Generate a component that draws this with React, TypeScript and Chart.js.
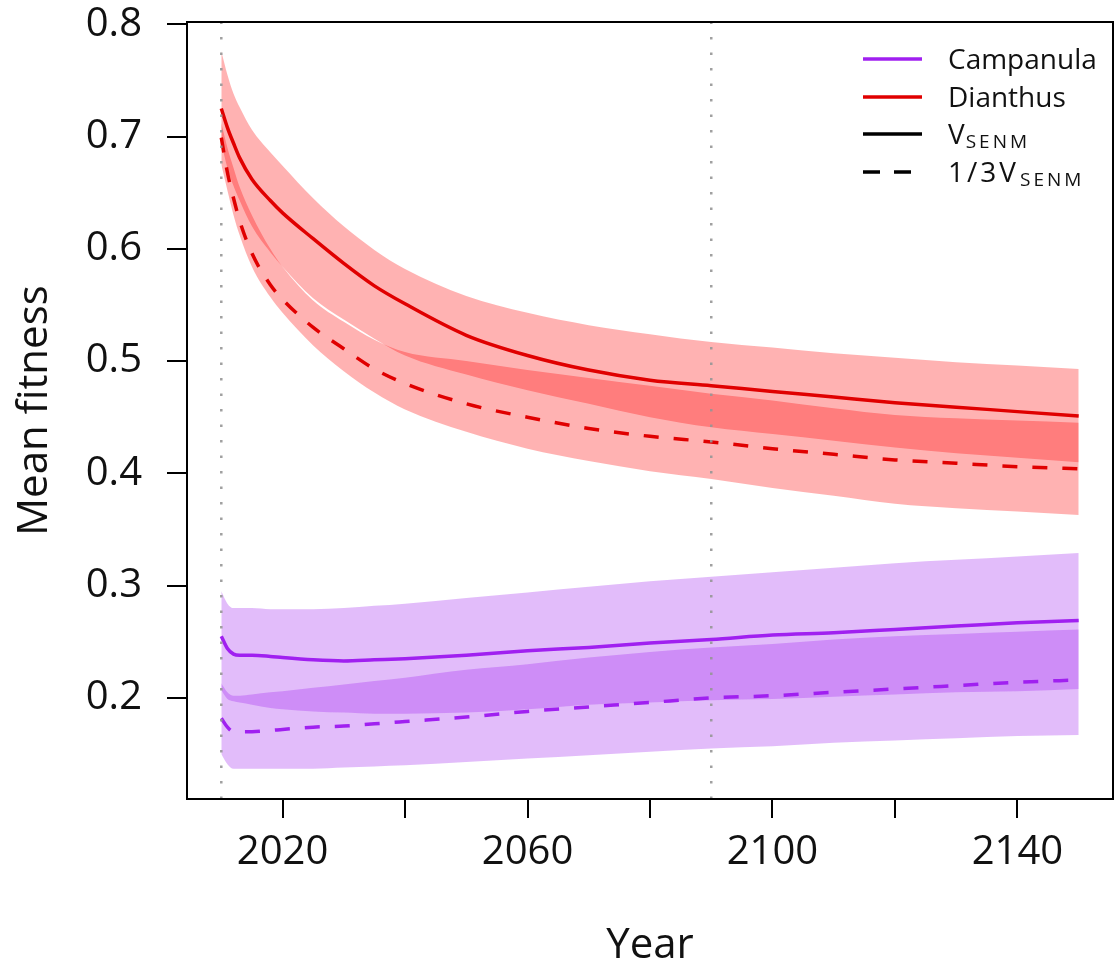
import { useEffect, useRef } from 'react';
import { Chart, registerables } from 'chart.js';

Chart.register(...registerables);

// ---------- data ----------
const years = [2010, 2011, 2012, 2013, 2015, 2018, 2020, 2025, 2030, 2035, 2040, 2050, 2060, 2070, 2080, 2090, 2100, 2110, 2120, 2130, 2140, 2150];

// Dianthus, V_SENM (solid) mean and band
const dianthusV = [0.725, 0.708, 0.694, 0.681, 0.662, 0.643, 0.632, 0.609, 0.587, 0.567, 0.551, 0.523, 0.505, 0.492, 0.483, 0.478, 0.473, 0.468, 0.463, 0.459, 0.455, 0.451];
const dianthusVHi = [0.776, 0.755, 0.738, 0.726, 0.706, 0.686, 0.674, 0.645, 0.620, 0.599, 0.582, 0.558, 0.543, 0.532, 0.524, 0.517, 0.512, 0.507, 0.503, 0.499, 0.496, 0.493];
const dianthusVLo = [0.695, 0.672, 0.656, 0.643, 0.620, 0.597, 0.584, 0.556, 0.537, 0.520, 0.505, 0.488, 0.474, 0.462, 0.450, 0.441, 0.435, 0.429, 0.423, 0.418, 0.414, 0.410];
// Dianthus, 1/3 V_SENM (dashed)
const dianthusT = [0.699, 0.668, 0.645, 0.625, 0.596, 0.568, 0.555, 0.530, 0.511, 0.493, 0.480, 0.462, 0.450, 0.440, 0.433, 0.428, 0.422, 0.417, 0.412, 0.409, 0.406, 0.404];
const dianthusTHi = [0.712, 0.690, 0.672, 0.655, 0.630, 0.600, 0.584, 0.554, 0.535, 0.519, 0.508, 0.500, 0.492, 0.485, 0.478, 0.471, 0.465, 0.458, 0.452, 0.449, 0.447, 0.445];
const dianthusTLo = [0.675, 0.652, 0.630, 0.612, 0.584, 0.557, 0.543, 0.514, 0.491, 0.472, 0.457, 0.437, 0.422, 0.411, 0.402, 0.395, 0.387, 0.380, 0.373, 0.369, 0.366, 0.363];

// Campanula, V_SENM (solid)
const campanulaV = [0.255, 0.244, 0.239, 0.238, 0.238, 0.237, 0.236, 0.234, 0.233, 0.234, 0.235, 0.238, 0.242, 0.245, 0.249, 0.252, 0.256, 0.258, 0.261, 0.264, 0.267, 0.269];
const campanulaVHi = [0.295, 0.284, 0.280, 0.280, 0.280, 0.279, 0.279, 0.279, 0.280, 0.282, 0.284, 0.289, 0.294, 0.299, 0.304, 0.308, 0.312, 0.316, 0.320, 0.323, 0.326, 0.329];
const campanulaVLo = [0.207, 0.199, 0.197, 0.196, 0.194, 0.191, 0.190, 0.188, 0.187, 0.186, 0.186, 0.187, 0.190, 0.194, 0.196, 0.198, 0.199, 0.201, 0.203, 0.205, 0.206, 0.208];
// Campanula, 1/3 V_SENM (dashed)
const campanulaT = [0.182, 0.174, 0.170, 0.170, 0.170, 0.171, 0.172, 0.174, 0.175, 0.177, 0.179, 0.183, 0.188, 0.192, 0.196, 0.200, 0.202, 0.205, 0.208, 0.211, 0.214, 0.216];
const campanulaTHi = [0.213, 0.205, 0.202, 0.202, 0.203, 0.205, 0.206, 0.209, 0.212, 0.215, 0.218, 0.225, 0.230, 0.236, 0.241, 0.245, 0.248, 0.252, 0.255, 0.257, 0.259, 0.261];
const campanulaTLo = [0.150, 0.141, 0.137, 0.137, 0.137, 0.137, 0.137, 0.137, 0.138, 0.139, 0.140, 0.143, 0.146, 0.149, 0.152, 0.155, 0.157, 0.160, 0.162, 0.164, 0.166, 0.167];

const refYears = [2010, 2090];
const xTicks = [2020, 2040, 2060, 2080, 2100, 2120, 2140];
const xLabelled = [2020, 2060, 2100, 2140];
const yTicks = [0.2, 0.3, 0.4, 0.5, 0.6, 0.7, 0.8];
const speciesNames = ['Campanula', 'Dianthus'];

// ---------- styles ----------
const FONT = '"Open Sans", "DejaVu Sans", sans-serif';
const RED = '#e00000';
const RED_BAND = 'rgba(255,0,0,0.3)';
const PURPLE = '#a020f0';
const PURPLE_BAND = 'rgba(160,32,240,0.3)';
const DASH = [15, 15];

const pts = (arr: number[]) => years.map((yr, i) => ({ x: yr, y: arr[i] }));

const lineDs = (label: string, arr: number[], color: string, dashed: boolean) => ({
  label,
  data: pts(arr),
  borderColor: color,
  borderWidth: 3.5,
  borderDash: dashed ? DASH : [],
  pointRadius: 0,
  fill: false,
  cubicInterpolationMode: 'monotone' as const,
  order: 1,
});

const bandDs = (label: string, arr: number[], color: string, target: number | false) => ({
  label,
  data: pts(arr),
  borderWidth: 0,
  borderColor: 'rgba(0,0,0,0)',
  backgroundColor: color,
  pointRadius: 0,
  fill: target === false ? false : target,
  cubicInterpolationMode: 'monotone' as const,
  order: 10,
});

const refLinesPlugin = {
  id: 'refLines',
  afterDatasetsDraw(chart: any) {
    const { ctx, chartArea, scales } = chart;
    ctx.save();
    ctx.strokeStyle = 'rgba(150,150,150,0.9)';
    ctx.lineWidth = 2.5;
    ctx.setLineDash([2.5, 13]);
    refYears.forEach((yr) => {
      const x = scales.x.getPixelForValue(yr);
      ctx.beginPath();
      ctx.moveTo(x, chartArea.bottom);
      ctx.lineTo(x, chartArea.top);
      ctx.stroke();
    });
    ctx.restore();
  },
};

const boxPlugin = {
  id: 'box',
  afterDraw(chart: any) {
    const { ctx, chartArea } = chart;
    ctx.save();
    ctx.strokeStyle = '#000';
    ctx.lineWidth = 2;
    ctx.strokeRect(chartArea.left, chartArea.top, chartArea.right - chartArea.left, chartArea.bottom - chartArea.top);
    ctx.restore();
  },
};

const legendPlugin = {
  id: 'customLegend',
  afterDraw(chart: any) {
    const ctx = chart.ctx;
    ctx.save();
    const x0 = 863;
    const x1 = 922;
    const tx = 948;
    const rows = [
      { y: 59, color: PURPLE, dash: [] as number[], main: speciesNames[0], sub: '' },
      { y: 97, color: RED, dash: [] as number[], main: speciesNames[1], sub: '' },
      { y: 134, color: '#000', dash: [] as number[], main: 'V', sub: 'SENM' },
      { y: 172, color: '#000', dash: [17, 14], main: '1/3V', sub: 'SENM' },
    ];
    rows.forEach((r) => {
      ctx.strokeStyle = r.color;
      ctx.lineWidth = 3.5;
      ctx.setLineDash(r.dash);
      ctx.beginPath();
      ctx.moveTo(x0, r.y);
      ctx.lineTo(x1, r.y);
      ctx.stroke();
      ctx.setLineDash([]);
      ctx.fillStyle = '#111';
      ctx.textBaseline = 'alphabetic';
      ctx.textAlign = 'left';
      ctx.font = `28px ${FONT}`;
      let x = tx;
      const base = r.y + 10;
      if (!r.sub) {
        ctx.fillText(r.main, x, base);
      } else {
        const spacing = r.main.length > 1 ? 3 : 0;
        for (const ch of r.main) {
          ctx.fillText(ch, x, base);
          x += ctx.measureText(ch).width + spacing;
        }
        x += 1;
        ctx.font = `19px ${FONT}`;
        for (const ch of r.sub) {
          ctx.fillText(ch, x, base + 4);
          x += ctx.measureText(ch).width + 3;
        }
      }
    });
    ctx.restore();
  },
};

export default function App() {
  const ref = useRef<HTMLCanvasElement | null>(null);

  useEffect(() => {
    if (!ref.current) return;
    const chart = new Chart(ref.current, {
      type: 'line',
      data: {
        datasets: [
          lineDs('Dianthus V', dianthusV, RED, false), // 0
          lineDs('Dianthus 1/3V', dianthusT, RED, true), // 1
          lineDs('Campanula V', campanulaV, PURPLE, false), // 2
          lineDs('Campanula 1/3V', campanulaT, PURPLE, true), // 3
          bandDs('Dianthus V hi', dianthusVHi, RED_BAND, 5), // 4
          bandDs('Dianthus V lo', dianthusVLo, RED_BAND, false), // 5
          bandDs('Dianthus 1/3V hi', dianthusTHi, RED_BAND, 7), // 6
          bandDs('Dianthus 1/3V lo', dianthusTLo, RED_BAND, false), // 7
          bandDs('Campanula V hi', campanulaVHi, PURPLE_BAND, 9), // 8
          bandDs('Campanula V lo', campanulaVLo, PURPLE_BAND, false), // 9
          bandDs('Campanula 1/3V hi', campanulaTHi, PURPLE_BAND, 11), // 10
          bandDs('Campanula 1/3V lo', campanulaTLo, PURPLE_BAND, false), // 11
        ] as any,
      },
      options: {
        animation: false,
        responsive: false,
        events: [],
        layout: { padding: { top: 22, right: 3, left: 0, bottom: 0 } },
        plugins: {
          legend: { display: false },
          tooltip: { enabled: false },
          title: { display: false },
        },
        scales: {
          x: {
            type: 'linear',
            min: 2004.4,
            max: 2155.6,
            afterBuildTicks: (s: any) => {
              s.ticks = xTicks.map((v) => ({ value: v }));
            },
            afterFit: (s: any) => {
              s.height = 170;
              s.paddingLeft = 0;
              s.paddingRight = 0;
            },
            ticks: {
              autoSkip: false,
              maxRotation: 0,
              padding: 11,
              color: '#111',
              font: { family: FONT, size: 40 },
              callback: (v: any) => (xLabelled.includes(Number(v)) ? String(v) : ''),
            },
            grid: { drawOnChartArea: false, drawTicks: true, tickLength: 19, color: '#000', lineWidth: 2 },
            border: { display: false },
            title: {
              display: true,
              text: 'Year',
              color: '#111',
              font: { family: FONT, size: 42, lineHeight: 1 },
              padding: { top: 0, bottom: 2 },
            },
          },
          y: {
            type: 'linear',
            min: 0.11,
            max: 0.802,
            afterBuildTicks: (s: any) => {
              s.ticks = yTicks.map((v) => ({ value: v }));
            },
            afterFit: (s: any) => {
              s.width = 187;
              s.paddingTop = 0;
              s.paddingBottom = 0;
            },
            ticks: {
              padding: 25,
              color: '#111',
              font: { family: FONT, size: 40 },
              callback: (v: any) => Number(v).toFixed(1),
            },
            grid: { drawOnChartArea: false, drawTicks: true, tickLength: 20, color: '#000', lineWidth: 2 },
            border: { display: false },
            title: {
              display: true,
              text: 'Mean fitness',
              color: '#111',
              font: { family: FONT, size: 42, lineHeight: 1 },
              padding: { top: 14, bottom: 0 },
            },
          },
        },
      } as any,
      plugins: [refLinesPlugin, boxPlugin, legendPlugin],
    });
    const fonts: any = (document as any).fonts;
    if (fonts && fonts.load) {
      fonts.load(`40px "Open Sans"`).then(() => chart.update()).catch(() => {});
    }
    return () => chart.destroy();
  }, []);

  return (
    <div style={{ position: 'absolute', left: 0, top: 0, width: 1116, height: 969, background: '#fff' }}>
      <canvas ref={ref} width={1116} height={969} style={{ display: 'block' }} />
    </div>
  );
}
